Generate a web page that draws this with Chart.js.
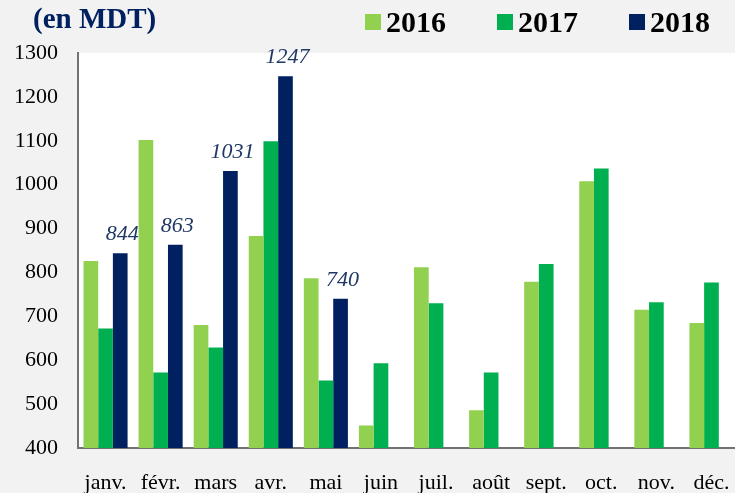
<!DOCTYPE html>
<html>
<head>
<meta charset="utf-8">
<script src="https://cdn.jsdelivr.net/npm/chart.js@4.4.1/dist/chart.umd.min.js"></script>
<style>
  html, body { margin: 0; padding: 0; background: #f2f2f2; overflow: hidden; }
  #wrap { width: 739px; height: 493px; }
</style>
</head>
<body>
<div id="wrap"><canvas id="chart" width="739" height="493"></canvas></div>
<script>
const months = ['janv.', 'févr.', 'mars', 'avr.', 'mai', 'juin', 'juil.', 'août', 'sept.', 'oct.', 'nov.', 'déc.'];
const values2016 = [826, 1102, 680, 883, 787, 451, 812, 486, 779, 1008, 715, 685];
const values2017 = [672, 572, 629, 1099, 554, 593, 730, 572, 819, 1037, 732, 777];
const values2018 = [844, 863, 1031, 1247, 740, null, null, null, null, null, null, null];
const seriesNames = ['2016', '2017', '2018'];
const unitTitle = '(en MDT)';
const yMin = 400;
const yMax = 1300;
const yStep = 100;

const hexColors = ['#92d050', '#00b050', '#002060'];
const serif = '"Liberation Serif", "Times New Roman", serif';

// white plot area on grey page
const plotBackground = {
  id: 'plotBackground',
  beforeDraw(chart) {
    const { ctx, chartArea } = chart;
    ctx.save();
    ctx.fillStyle = '#ffffff';
    ctx.fillRect(chartArea.left, chartArea.top, chartArea.right - chartArea.left, chartArea.bottom - chartArea.top);
    ctx.restore();
  }
};

// italic values above the 2018 bars
const valueLabels = {
  id: 'valueLabels',
  afterDatasetsDraw(chart) {
    const { ctx } = chart;
    const meta = chart.getDatasetMeta(2);
    ctx.save();
    ctx.font = 'italic 22px ' + serif;
    ctx.fillStyle = '#1f3864';
    ctx.textAlign = 'center';
    ctx.textBaseline = 'alphabetic';
    meta.data.forEach((bar, i) => {
      const v = values2018[i];
      if (v == null) return;
      ctx.fillText(String(v), bar.x + 2, bar.y - 13);
    });
    ctx.restore();
  }
};

// title and legend at the top
const header = {
  id: 'header',
  afterDraw(chart) {
    const { ctx } = chart;
    ctx.save();
    ctx.font = 'bold 29px ' + serif;
    ctx.fillStyle = '#002060';
    ctx.textAlign = 'left';
    ctx.textBaseline = 'middle';
    ctx.fillText(unitTitle, 33, 21);

    const legendX = [365, 497, 629];
    ctx.font = 'bold 30px ' + serif;
    chart.data.datasets.forEach((ds, i) => {
      ctx.fillStyle = ds.backgroundColor;
      ctx.fillRect(legendX[i], 14, 16, 16);
      ctx.fillStyle = '#000000';
      ctx.fillText(ds.label, legendX[i] + 21, 24);
    });
    ctx.restore();
  }
};

const ctx = document.getElementById('chart').getContext('2d');
new Chart(ctx, {
  type: 'bar',
  data: {
    labels: months,
    datasets: [
      { label: seriesNames[0], data: values2016, backgroundColor: hexColors[0] },
      { label: seriesNames[1], data: values2017, backgroundColor: hexColors[1] },
      { label: seriesNames[2], data: values2018, backgroundColor: hexColors[2] },
    ],
  },
  options: {
    responsive: false,
    animation: false,
    categoryPercentage: 0.8,
    barPercentage: 1.0,
    layout: { padding: { top: 53, right: 0, bottom: 0, left: 0 } },
    plugins: {
      legend: { display: false },
      tooltip: { enabled: false },
    },
    scales: {
      x: {
        grid: { display: false, drawTicks: false },
        border: { display: true, color: '#767171', width: 2 },
        ticks: { color: '#000000', font: { family: serif, size: 22 }, padding: 22, maxRotation: 0 },
        afterFit(scale) {
          scale.height = 45;
          scale.paddingLeft = 0;
          scale.paddingRight = 0;
        },
      },
      y: {
        min: yMin,
        max: yMax,
        grid: { display: false, drawTicks: false },
        border: { display: true, color: '#767171', width: 2 },
        ticks: {
          stepSize: yStep,
          color: '#000000',
          font: { family: serif, size: 22 },
          padding: 20,
          callback: (v) => String(v),
        },
        afterFit(scale) { scale.width = 78; },
      },
    },
  },
  plugins: [plotBackground, valueLabels, header],
});
</script>
</body>
</html>
